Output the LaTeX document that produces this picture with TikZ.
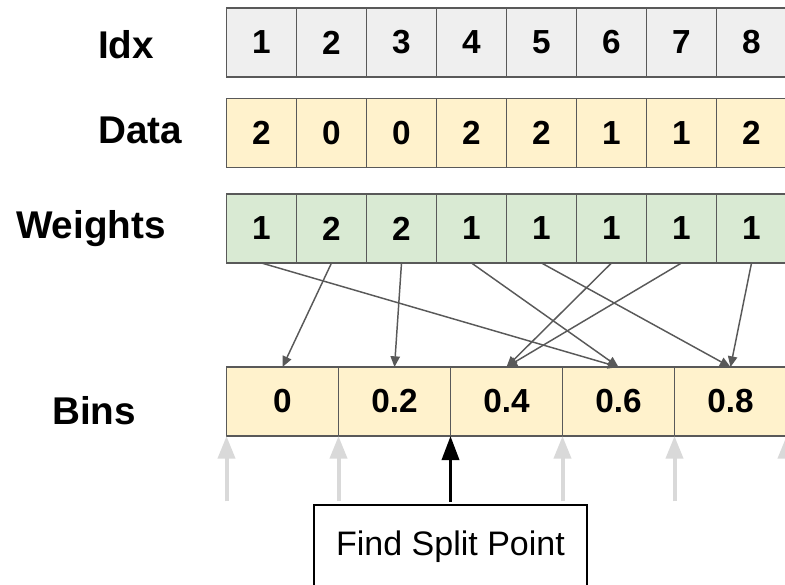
\documentclass[tikz,border=0pt]{standalone}
\usepackage{fontspec}
\setmainfont{Liberation Sans}
\usetikzlibrary{arrows.meta}

\definecolor{idxfill}{HTML}{EFEFEF}
\definecolor{datafill}{HTML}{FFF2CC}
\definecolor{wfill}{HTML}{D9EAD3}
\definecolor{linegray}{HTML}{595959}
\definecolor{edgegray}{HTML}{D9D9D9}

\begin{document}
\begin{tikzpicture}[x=0.75pt,y=-0.75pt,
    cell/.style={draw=linegray,line width=1.1pt,inner sep=0pt,outer sep=0pt,
      minimum width=52.5pt,minimum height=51.75pt,
      font=\fontsize{25}{30}\selectfont\bfseries},
    bincell/.style={cell,fill=datafill,minimum width=84pt},
    rowname/.style={anchor=base,font=\fontsize{29}{34}\selectfont\bfseries},
    link/.style={draw=linegray,line width=1.1pt,-{Triangle[length=8pt,width=7pt]}},
    binedge/.style={draw=edgegray,line width=3pt,-{Triangle[length=17pt,width=12.75pt]}},
    splitarrow/.style={draw=black,line width=2.6pt,-{Triangle[length=18pt,width=12.75pt]}}]
    \useasboundingbox (0,0) rectangle (785,585);
    \clip (0,0) rectangle (785,585);

    \node[rowname] (idxname) at (126,59) {Idx};
    \node[rowname] (dataname) at (140,143) {Data};
    \node[rowname] (wname) at (91,238) {Weights};
    \node[rowname] (binname) at (94,424) {Bins};

    \foreach \v [count=\i] in {1,2,3,4,5,6,7,8}
        \node[cell,fill=idxfill] (idx\i) at (191.5+70*\i,42.5) {\v};
    \foreach \v [count=\i] in {2,0,0,2,2,1,1,2}
        \node[cell,fill=datafill] (data\i) at (191.5+70*\i,133) {\v};
    \foreach \v [count=\i] in {1,2,2,1,1,1,1,1}
        \node[cell,fill=wfill] (w\i) at (191.5+70*\i,228.5) {\v};
    \foreach \v [count=\i] in {0,0.2,0.4,0.6,0.8}
        \node[bincell] (bin\i) at (170.5+112*\i,401.5) {\v};

    \foreach \a/\b in {1/4,2/1,3/2,4/4,5/5,6/3,7/3,8/5}
        \draw[link] (w\a.south) -- (bin\b.north);

    \foreach \b in {1,2,4,5}
        \draw[binedge] ([yshift=-49pt]bin\b.south west) -- (bin\b.south west);
    \draw[binedge] ([yshift=-49pt]bin5.south east) -- (bin5.south east);

    \node[draw,line width=1pt,minimum width=204.75pt,minimum height=63pt,
        font=\fontsize{25.5}{30}\selectfont] (split) at (450.5,547) {Find Split Point};
    \draw[splitarrow] ([yshift=2pt]split.north) -- (bin2.south east);
\end{tikzpicture}
\end{document}
